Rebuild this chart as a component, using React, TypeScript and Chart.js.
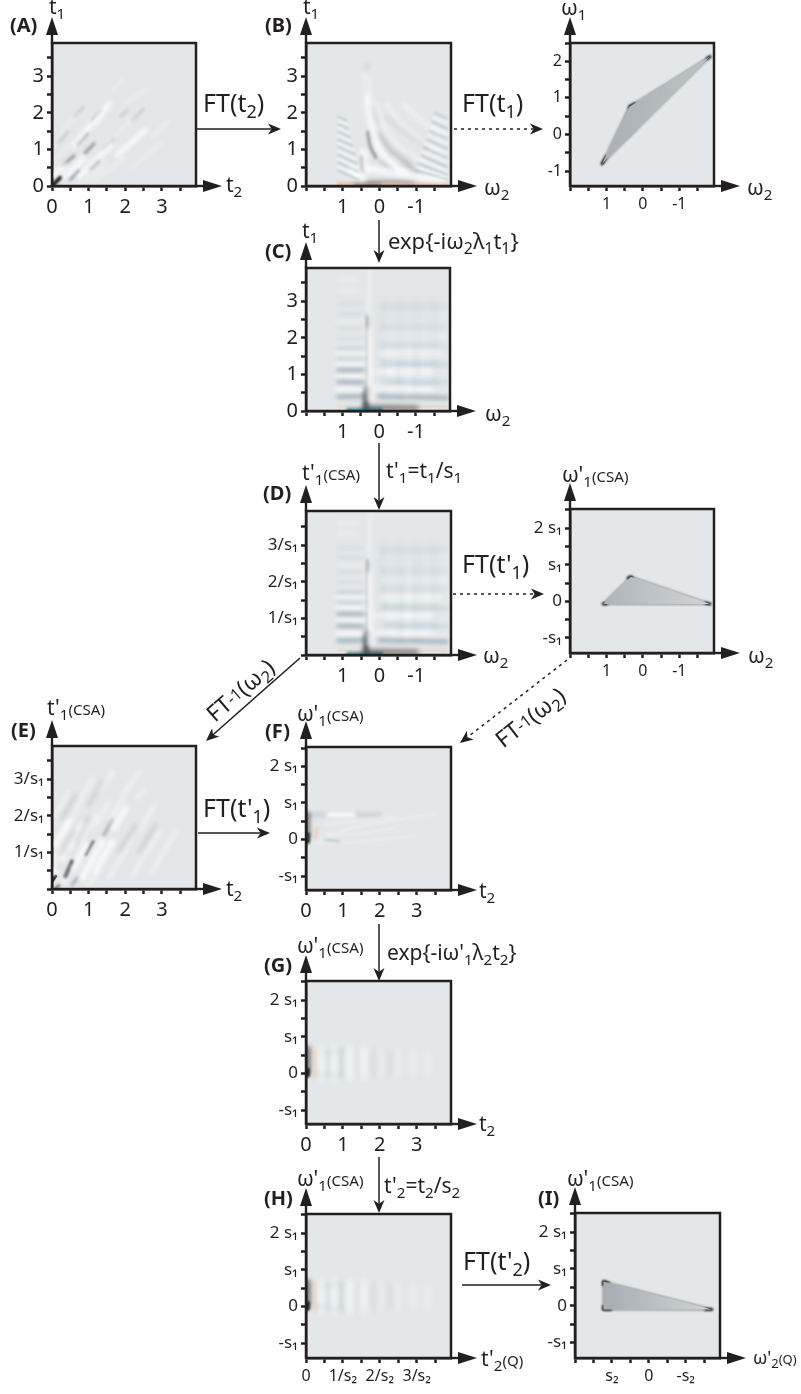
import React, { useEffect, useRef } from "react";
import { Chart, registerables } from "chart.js";
Chart.register(...registerables);

// ---------- tick values and labels ----------
const timeTickValues = [0, 1, 2, 3];
const timeTickText = ["0", "1", "2", "3"];
const freqTickValues = [1, 0, -1];
const freqTickText = ["1", "0", "-1"];
const wideFreqTickValues = [2, 1, 0, -1];
const wideFreqTickText = ["2", "1", "0", "-1"];
const scaledTimeTickValues = [1, 2, 3];
const scaledTimeTickText = ["1/s₁", "2/s₁", "3/s₁"];
const scaledFreqTickValues = [2, 1, 0, -1];
const scaledFreqTickText = ["2 s₁", "s₁", "0", "-s₁"];
const q2TimeTickValues = [0, 1, 2, 3];
const q2TimeTickText = ["0", "1/s₂", "2/s₂", "3/s₂"];
const q2FreqTickValues = [1, 0, -1];
const q2FreqTickText = ["s₂", "0", "-s₂"];

// ---------- read-off shapes, as polylines [x, y, x, y, ...] in axis units ----------
const shapeB1 = [[1.12, -0.8, 0.37, 0.76, -1.84, 2.13, 1.12, -0.8]];
const shapeB1Dark = [[1.12, -0.8, 1.0, -0.6], [0.37, 0.76, 0.3, 0.6], [0.37, 0.76, 0.22, 0.84], [-1.84, 2.13, -1.76, 2.07]];
const shapeB1Core = [[0.28, 0.62, 0.05, 0.62, 0.45, 0.1]];
const shapeD1 = [[1.09, -0.07, 0.33, 0.67, -1.84, -0.07, 1.09, -0.07]];
const shapeD1Dark = [[1.09, -0.07, 1.0, -0.07], [0.33, 0.67, 0.27, 0.61], [0.33, 0.67, 0.41, 0.64], [-1.84, -0.07, -1.72, -0.05]];
const shapeI = [[1.23, 0.66, 1.23, -0.1, -1.71, -0.1, 1.23, 0.66]];
const shapeIDark = [[1.23, 0.66, 1.23, 0.57], [1.23, 0.66, 1.1, 0.62], [1.23, -0.1, 1.23, -0.02], [1.23, -0.1, 1.03, -0.1], [-1.71, -0.1, -1.54, -0.1]];

const aBlack = [[0, 0, 0.22, 0.23]];
const aDark = [[0.3, 0.56, 0.6, 0.83], [0.5, 0.18, 0.73, 0.42], [0.69, 1.14, 0.96, 1.43], [0.9, 0.9, 1.15, 1.16], [1.05, 0.48, 1.28, 0.7]];
const aFaint = [[1.1, 1.81, 1.33, 2.04], [1.88, 1.9, 2.06, 2.08], [1.4, 1.0, 1.7, 1.3], [0.2, 1.2, 0.45, 1.5], [2.2, 1.8, 2.5, 2.1], [0.6, 1.9, 0.85, 2.15]];
const aWhite = [[0.05, 0.3, 0.37, 0.58], [0.6, 1.1, 1.05, 1.67], [0.37, 0.26, 0.87, 0.76], [0.73, 0.25, 1.6, 1.1], [1.19, 1.72, 1.56, 2.26], [1.78, 0.85, 2.56, 1.53]];
const aWhiteFaint = [[1.65, 2.63, 1.92, 2.9], [2, 2.26, 2.56, 2.63], [1.2, 0.15, 2.0, 0.8], [0.25, 1.45, 0.65, 1.95], [2.2, 0.5, 3.0, 1.2], [2.75, 1.35, 3.2, 1.8], [0.1, 0.75, 0.5, 1.15], [0.9, 0.1, 1.5, 0.65], [1.55, 1.2, 2.2, 1.85]];

const bStrip = [[1.12, 0.07, -1.84, 0.07]];
const bBase = [[0.65, 0.03, 0.0, 0.03]];
const bBaseGrey = [[0.3, 0.07, -0.9, 0.07]];
const bWhiteArcs = [
  [0.36, 3.07, 0.3, 2.25, 0.18, 1.53, 0.03, 1.07, -0.29, 0.66, -0.75, 0.39],
  [0.25, 0.48, -0.29, 0.39, -1.02, 0.25, -1.75, 0.16],
  [0.44, 0.98, 0.39, 0.35],
  [0.8, 0.48, 0.48, 0.21],
];
const bWhiteFaint = [
  [0.12, 2.25, -0.11, 1.62, -0.56, 1.07, -1.2, 0.66],
  [-0.2, 2.25, -0.56, 1.71, -1.2, 1.16, -1.75, 0.85],
  [-0.65, 2.25, -1.11, 1.8, -1.75, 1.35],
];
const bDarkArc = [[0.31, 1.48, 0.24, 1.07, 0.09, 0.78], [0.48, 0.8, 0.44, 0.39]];
const bGreyArc = [[-0.06, 0.66, -0.38, 0.42], [-0.56, 0.57, -1.02, 0.39], [0.03, 1.44, -0.29, 0.98, -0.84, 0.57]];
const bGreyFaint = [[0.2, 2.16, 0.03, 1.71], [0.35, 3.35, 0.35, 2.53], [-0.2, 1.9, -0.7, 1.45, -1.3, 1.05]];
const bRipplesBlue = [
  [1.12, 1.89, 0.9, 1.79], [1.12, 1.69, 0.86, 1.57], [1.12, 1.48, 0.8, 1.33], [1.12, 1.27, 0.74, 1.1],
  [1.12, 1.07, 0.68, 0.87], [1.12, 0.85, 0.62, 0.62], [1.12, 0.64, 0.58, 0.39], [1.12, 0.42, 0.56, 0.17],
  [-1.5, 2.0, -1.84, 1.84], [-1.45, 1.75, -1.84, 1.57], [-1.38, 1.5, -1.84, 1.29], [-1.3, 1.27, -1.84, 1.02],
  [-1.22, 1.05, -1.84, 0.77], [-1.15, 0.83, -1.84, 0.52], [-1.05, 0.62, -1.84, 0.3], [-1.0, 0.42, -1.84, 0.2],
];
const bRipplesWhite = [
  [1.12, 1.79, 0.88, 1.68], [1.12, 1.59, 0.83, 1.46], [1.12, 1.38, 0.77, 1.22], [1.12, 1.17, 0.71, 0.98],
  [1.12, 0.96, 0.65, 0.74], [1.12, 0.75, 0.6, 0.5], [1.12, 0.53, 0.57, 0.28],
  [-1.48, 1.88, -1.84, 1.71], [-1.42, 1.62, -1.84, 1.43], [-1.34, 1.38, -1.84, 1.15], [-1.26, 1.15, -1.84, 0.9],
  [-1.18, 0.94, -1.84, 0.65], [-1.1, 0.72, -1.84, 0.41], [-1.02, 0.52, -1.84, 0.25],
];

const cTeal = [[0.85, 0.04, -0.05, 0.04]];
const cStrip = [[1.12, 0.12, -1.84, 0.12]];
const cBaseGrey = [[0.4, 0.09, -1.0, 0.07]];
const cCore = [[0.36, 0, 0.36, 0.6]];
const cCoreUp = [[0.34, 0.6, 0.33, 2.6]];
const cWhiteCentre = [[0.27, 0.3, 0.29, 2.2], [-0.8, 0.6, 0.05, 0.62], [-1.5, 0.58, -0.8, 0.6], [-1.45, 1.07, 0.02, 1.07]];
const cBandsStrong = [[1.12, 0.39, 0.45, 0.4], [1.12, 0.8, 0.45, 0.78], [1.12, 1.12, 0.45, 1.12], [-0.8, 0.39, -1.84, 0.36], [0.0, 0.4, -0.7, 0.38]];
const cBandsMid = [[1.12, 1.44, 0.45, 1.44], [1.12, 1.71, 0.45, 1.71], [-0.2, 0.8, -1.84, 0.78], [-0.1, 1.3, -1.84, 1.28]];
const cBandsFaint = [[1.12, 1.98, 0.5, 1.98], [1.12, 2.25, 0.5, 2.25], [1.12, 2.66, 0.5, 2.66], [1.12, 2.9, 0.5, 2.9], [-0.05, 1.8, -1.84, 1.8], [-0.05, 2.3, -1.84, 2.3], [-0.05, 2.85, -1.8, 2.85]];
const cWhiteBands = [[1.12, 0.6, 0.45, 0.6], [1.12, 0.96, 0.45, 0.96], [1.12, 1.28, 0.45, 1.28], [1.12, 1.58, 0.45, 1.58], [-0.05, 1.57, -1.6, 1.57]];
const cWhiteFaintBands = [[1.12, 1.85, 0.5, 1.85], [1.12, 2.12, 0.5, 2.12], [1.12, 2.45, 0.5, 2.45], [1.12, 2.8, 0.5, 2.8], [1.12, 3.3, 0.6, 3.3], [1.12, 3.6, 0.6, 3.6], [-0.05, 2.05, -1.84, 2.05], [0.25, 3.9, 0.25, 2.6]];
const cColumns = [[-0.11, 0.5, -0.11, 3], [-0.56, 0.5, -0.56, 3], [-1.02, 0.5, -1.02, 3], [-1.47, 0.5, -1.47, 3]];
const cColumnsWhite = [[-0.33, 0.5, -0.33, 2.8], [-0.8, 0.5, -0.8, 2.8], [-1.25, 0.5, -1.25, 2.8], [-1.7, 0.5, -1.7, 2.8]];

const eBlack = [[0, 0.21, 0.1, 0.35]];
const eDark = [[0.37, 0.35, 0.55, 0.75]];
const eDarkMid = [[0.92, 0.94, 1.12, 1.3], [0.1, 0.02, 0.2, 0.1]];
const eGrey = [[1.42, 1.48, 1.65, 1.89], [0.55, 0.12, 0.69, 0.3], [0.14, 0.57, 0.23, 0.75]];
const eWhite = [[0.05, 0.44, 0.32, 0.94], [0.6, 0.57, 0.92, 1.21], [0.83, 0.3, 1.37, 1.3], [1.19, 0.48, 1.65, 1.3], [1.69, 1.66, 2.01, 2.21], [0.1, 1.21, 0.46, 1.85], [0.46, 1.12, 0.83, 1.75]];
const eWhiteFaint = [[1.56, 0.3, 2.2, 1.39], [0.83, 1.39, 1.19, 2.03], [1.19, 1.75, 1.56, 2.39], [2.33, 2.48, 2.52, 2.75], [0.1, 2.03, 0.46, 2.66], [0.65, 2.21, 1.1, 3.03], [2.2, 0.39, 2.93, 1.57], [2.74, 0.48, 3.38, 1.57], [1.28, 2.66, 1.65, 3.2], [1.92, 2.57, 2.38, 3.2], [0.25, 0.1, 0.55, 0.62], [1.0, 0.1, 1.25, 0.5], [0.02, 0.75, 0.25, 1.15], [0.35, 1.6, 0.7, 2.2], [2.4, 1.6, 2.8, 2.3], [1.6, 1.9, 1.95, 2.5]];
const eGreyFaint = [[0.23, 0.94, 0.6, 1.57], [0.65, 1.3, 1.0, 1.94], [0.28, 1.94, 0.65, 2.57], [1.0, 2.3, 1.37, 2.94], [1.83, 1.03, 2.28, 1.75], [2.38, 1.03, 2.83, 1.75]];

const fBlack = [[0.04, -0.06, 0.05, 0.14]];
const fDark = [[0.03, 0.1, 0.03, 0.68]];
const fGreyTop = [[0.05, 0.68, 0.5, 0.68], [1.4, 0.68, 2.0, 0.68]];
const fWhiteTop = [[0.6, 0.68, 1.3, 0.68]];
const fWhiteFan = [[0.4, 0, 1.2, 0.3, 2.2, 0.5, 3.5, 0.7], [0.3, -0.1, 1.0, -0.1, 2.0, 0, 3.0, 0.1], [0.5, 0.4, 1.2, 0.5, 2.4, 0.62], [0.55, 0.15, 1.3, 0.15, 2.4, 0.3]];
const fOrange = [[0.25, 0.05, 0.3, 0.3]];
const fBlue = [[0.5, 0, 0.9, -0.06], [0.08, 0.02, 0.1, 0.2]];

const gBlack = [[0.04, -0.06, 0.05, 0.1]];
const gDark = [[0.04, 0.05, 0.04, 0.65]];
const gWhite = [[0.42, -0.1, 0.42, 0.65], [0.75, -0.1, 0.75, 0.65], [1.2, -0.1, 1.2, 0.65], [1.55, -0.1, 1.55, 0.65]];
const gWhiteFaint = [[2.0, -0.05, 2.0, 0.62], [2.45, -0.05, 2.45, 0.6], [2.9, 0.0, 2.9, 0.55], [3.3, 0.0, 3.3, 0.5]];
const gBlue = [[0.6, -0.1, 0.6, 0.65], [0.95, -0.1, 0.95, 0.65], [0.3, 0.0, 1.0, -0.05], [0.5, 0.55, 1.0, 0.6]];
const gGrey = [[1.4, -0.08, 1.4, 0.62], [1.85, -0.05, 1.85, 0.6], [2.3, 0, 2.3, 0.55]];
const gOrange = [[0.25, -0.1, 0.25, 0.65]];

// ---------- styling ----------
const INK = "#231f20";
const PANEL_BG = "#e4e7e9";
const FONT = '"Noto Sans", "Open Sans", sans-serif';
const white = (a: number) => `rgba(255,255,255,${a})`;
const black = (a: number) => `rgba(20,24,28,${a})`;
const blue = (a: number) => `rgba(95,150,175,${a})`;
const orange = (a: number) => `rgba(240,180,140,${a})`;
const teal = (a: number) => `rgba(15,95,115,${a})`;

type Layer = { d: number[][]; c: string; w: number; b?: number; t?: number };

const layersC: Layer[] = [
  { d: cColumns, c: blue(0.1), w: 6, b: 4 },
  { d: cColumnsWhite, c: white(0.2), w: 7, b: 4 },
  { d: cBandsFaint, c: blue(0.14), w: 4, b: 2.5 },
  { d: cBandsMid, c: blue(0.25), w: 4, b: 2.2 },
  { d: cBandsStrong, c: "rgba(70,105,125,0.45)", w: 4, b: 2 },
  { d: cWhiteFaintBands, c: white(0.35), w: 4, b: 2.5 },
  { d: cWhiteBands, c: white(0.65), w: 6, b: 2.5 },
  { d: cWhiteCentre, c: white(0.75), w: 6, b: 2.8 },
  { d: cBaseGrey, c: black(0.45), w: 6, b: 2.5 },
  { d: cStrip, c: orange(0.45), w: 2, b: 1 },
  { d: cTeal, c: "rgba(40,140,165,0.8)", w: 4, b: 1.2 },
  { d: cCoreUp, c: black(0.35), w: 2, b: 1.5 },
  { d: cCore, c: black(0.85), w: 5, b: 2 },
];

const layersG: Layer[] = [
  { d: gWhite, c: white(0.6), w: 7, b: 3 },
  { d: gWhiteFaint, c: white(0.35), w: 6, b: 3 },
  { d: gBlue, c: blue(0.22), w: 4, b: 2.2 },
  { d: gGrey, c: black(0.07), w: 5, b: 3 },
  { d: gOrange, c: orange(0.45), w: 4, b: 2.2 },
  { d: gDark, c: black(0.5), w: 7, b: 2 },
  { d: gBlack, c: black(0.95), w: 4, b: 1 },
];

const polygonLayers = (dark: number[][], edge: number[][]): Layer[] => [
  { d: edge, c: black(0.5), w: 1.5, b: 0.8 },
  { d: dark, c: black(0.95), w: 2.8, b: 0.8 },
];

type Panel = {
  L: number; T: number; R: number; B: number;
  xMin: number; xMax: number; yMin: number; yMax: number; rev?: boolean;
  xv: number[]; xt: string[]; yv: number[]; yt: string[];
  xs: number; ys: number;
  poly?: number[][]; grad?: [number, string, number, string];
  layers: Layer[];
};

const panels: Panel[] = [
  { L: 52, T: 43, R: 196, B: 186, xMin: 0, xMax: 3.93, yMin: 0, yMax: 3.91,
    xv: timeTickValues, xt: timeTickText, yv: timeTickValues, yt: timeTickText, xs: 20, ys: 20,
    layers: [
      { d: aWhiteFaint, c: white(0.35), w: 3, b: 2 },
      { d: aWhite, c: white(0.8), w: 5, b: 2.2 },
      { d: aFaint, c: black(0.14), w: 2.5, b: 1.5 },
      { d: aDark, c: black(0.36), w: 3, b: 1.8 },
      { d: aBlack, c: black(0.95), w: 4, b: 1 },
    ] },
  { L: 306, T: 43, R: 451, B: 186, xMin: -1.95, xMax: 2, yMin: 0, yMax: 3.91, rev: true,
    xv: freqTickValues, xt: freqTickText, yv: timeTickValues, yt: timeTickText, xs: 20, ys: 20,
    layers: [
      { d: bGreyFaint, c: black(0.09), w: 3, b: 2 },
      { d: bRipplesWhite, c: white(0.5), w: 2.5, b: 1 },
      { d: bRipplesBlue, c: blue(0.32), w: 2, b: 0.9 },
      { d: bWhiteFaint, c: white(0.45), w: 4, b: 2.4 },
      { d: bWhiteArcs, c: white(0.85), w: 5.5, b: 2.8, t: 0.3 },
      { d: bGreyArc, c: black(0.2), w: 4, b: 2.5 },
      { d: bDarkArc, c: black(0.42), w: 3, b: 1.8, t: 0.3 },
      { d: bStrip, c: orange(0.75), w: 3, b: 1 },
      { d: bBaseGrey, c: black(0.42), w: 5, b: 2.5 },
      { d: bBase, c: teal(0.9), w: 4, b: 1.5 },
    ] },
  { L: 570, T: 43, R: 714, B: 186, xMin: -1.95, xMax: 2, yMin: -1.41, yMax: 2.5, rev: true,
    xv: freqTickValues, xt: freqTickText, yv: wideFreqTickValues, yt: wideFreqTickText, xs: 16, ys: 16,
    poly: shapeB1, grad: [1.12, "#a9b1b6", -1.84, "#bcc3c7"],
    layers: [{ d: shapeB1Core, c: black(0.18), w: 6, b: 3 }, ...polygonLayers(shapeB1Dark, shapeB1)] },
  { L: 306, T: 268, R: 450, B: 411, xMin: -1.93, xMax: 2, yMin: 0, yMax: 3.91, rev: true,
    xv: freqTickValues, xt: freqTickText, yv: timeTickValues, yt: timeTickText, xs: 20, ys: 20,
    layers: layersC },
  { L: 306, T: 511, R: 451, B: 655, xMin: -1.95, xMax: 2, yMin: 0, yMax: 3.93, rev: true,
    xv: freqTickValues, xt: freqTickText, yv: scaledTimeTickValues, yt: scaledTimeTickText, xs: 20, ys: 17,
    layers: layersC },
  { L: 570, T: 509, R: 714, B: 653, xMin: -1.95, xMax: 2, yMin: -1.41, yMax: 2.52, rev: true,
    xv: freqTickValues, xt: freqTickText, yv: scaledFreqTickValues, yt: scaledFreqTickText, xs: 16, ys: 17,
    poly: shapeD1, grad: [1.09, "#aeb5b9", -1.84, "#d0d4d7"],
    layers: polygonLayers(shapeD1Dark, shapeD1) },
  { L: 52, T: 746, R: 196, B: 889, xMin: 0, xMax: 3.93, yMin: 0, yMax: 3.91,
    xv: timeTickValues, xt: timeTickText, yv: scaledTimeTickValues, yt: scaledTimeTickText, xs: 20, ys: 17,
    layers: [
      { d: eGreyFaint, c: black(0.1), w: 4, b: 2 },
      { d: eWhiteFaint, c: white(0.35), w: 5, b: 2 },
      { d: eWhite, c: white(0.75), w: 6, b: 2.2 },
      { d: eGrey, c: black(0.24), w: 3.5, b: 1.5 },
      { d: eDarkMid, c: black(0.5), w: 3, b: 1.3 },
      { d: eDark, c: black(0.75), w: 4, b: 1.3 },
      { d: eBlack, c: black(0.9), w: 3, b: 0.7 },
    ] },
  { L: 306, T: 747, R: 451, B: 890, xMin: 0, xMax: 3.93, yMin: -1.38, yMax: 2.53,
    xv: timeTickValues, xt: timeTickText, yv: scaledFreqTickValues, yt: scaledFreqTickText, xs: 20, ys: 17,
    layers: [
      { d: fWhiteFan, c: white(0.32), w: 2.5, b: 1.6, t: 0.3 },
      { d: fGreyTop, c: black(0.13), w: 4, b: 2.2 },
      { d: fWhiteTop, c: white(0.65), w: 4, b: 1.8 },
      { d: fOrange, c: orange(0.5), w: 3, b: 1.8 },
      { d: fBlue, c: blue(0.35), w: 2.5, b: 1.4 },
      { d: fDark, c: black(0.5), w: 6, b: 2.2 },
      { d: fBlack, c: black(0.95), w: 4, b: 0.8 },
    ] },
  { L: 306, T: 981, R: 451, B: 1124, xMin: 0, xMax: 3.93, yMin: -1.38, yMax: 2.52,
    xv: timeTickValues, xt: timeTickText, yv: scaledFreqTickValues, yt: scaledFreqTickText, xs: 20, ys: 17,
    layers: layersG },
  { L: 306, T: 1214, R: 451, B: 1358, xMin: 0, xMax: 3.93, yMin: -1.4, yMax: 2.52,
    xv: q2TimeTickValues, xt: q2TimeTickText, yv: scaledFreqTickValues, yt: scaledFreqTickText, xs: 16, ys: 17,
    layers: layersG },
  { L: 575, T: 1213, R: 720, B: 1358, xMin: -1.93, xMax: 2, yMin: -1.42, yMax: 2.52, rev: true,
    xv: q2FreqTickValues, xt: q2FreqTickText, yv: scaledFreqTickValues, yt: scaledFreqTickText, xs: 16, ys: 17,
    poly: shapeI, grad: [1.23, "#a6adb2", -1.71, "#d0d4d7"],
    layers: polygonLayers(shapeIDark, shapeI) },
];

const toPoints = (lines: number[][]) => {
  const pts: { x: number; y: number }[] = [];
  lines.forEach((l) => {
    for (let i = 0; i < l.length; i += 2) pts.push({ x: l[i], y: l[i + 1] });
    pts.push({ x: NaN, y: NaN });
  });
  return pts;
};

const M_LEFT = 50, M_TOP = 8, M_RIGHT = 8, M_BOTTOM = 34;

const framePlugin = {
  id: "frame",
  beforeDraw(chart: any) {
    const { ctx, chartArea: a } = chart;
    ctx.save();
    ctx.fillStyle = PANEL_BG;
    ctx.fillRect(a.left, a.top, a.right - a.left, a.bottom - a.top);
    ctx.restore();
  },
  beforeDatasetDraw(chart: any, args: any) {
    const ds = chart.data.datasets[args.index];
    chart.ctx.save();
    if (ds.blurPx) chart.ctx.filter = `blur(${ds.blurPx}px)`;
  },
  afterDatasetDraw(chart: any) {
    chart.ctx.restore();
  },
  afterDraw(chart: any) {
    const { ctx, chartArea: a } = chart;
    ctx.save();
    ctx.strokeStyle = INK;
    ctx.lineWidth = 2.5;
    ctx.strokeRect(a.left, a.top, a.right - a.left, a.bottom - a.top);
    ctx.restore();
  },
};

const axis = (min: number, max: number, values: number[], text: string[], size: number, reverse: boolean, fit: (s: any) => void, padding: number) => ({
  type: "linear",
  min, max, reverse,
  afterFit: (s: any) => {
    fit(s);
    s.paddingTop = 0; s.paddingBottom = 0; s.paddingLeft = 0; s.paddingRight = 0;
  },
  border: { display: true, color: INK, width: 2.5 },
  grid: { drawOnChartArea: false, drawTicks: true, tickLength: 5, tickWidth: 2.5, tickColor: INK },
  ticks: {
    stepSize: 0.5, includeBounds: false, autoSkip: false, maxRotation: 0, padding,
    color: INK, font: { family: FONT, size },
    callback: (v: number) => {
      const i = values.findIndex((u) => Math.abs(u - v) < 1e-6);
      return i >= 0 ? text[i] : "";
    },
  },
});

function PanelChart({ p }: { p: Panel }) {
  const ref = useRef<HTMLCanvasElement>(null);
  useEffect(() => {
    const datasets: any[] = [];
    if (p.poly && p.grad) {
      const [v0, c0, v1, c1] = p.grad;
      datasets.push({
        data: toPoints(p.poly).filter((q) => !Number.isNaN(q.x)),
        showLine: true, pointRadius: 0, borderWidth: 0, fill: "shape",
        backgroundColor: (ctx: any) => {
          const chart = ctx.chart;
          if (!chart.chartArea) return c0;
          const x = chart.scales.x;
          const g = chart.ctx.createLinearGradient(x.getPixelForValue(v0), 0, x.getPixelForValue(v1), 0);
          g.addColorStop(0, c0);
          g.addColorStop(1, c1);
          return g;
        },
      });
    }
    p.layers.forEach((l) => datasets.push({
      data: toPoints(l.d), showLine: true, pointRadius: 0, fill: false,
      borderColor: l.c, borderWidth: l.w, borderCapStyle: "round", borderJoinStyle: "round",
      tension: l.t ?? 0, blurPx: l.b ?? 0, spanGaps: false, clip: 0,
    }));
    const chart = new Chart(ref.current as HTMLCanvasElement, {
      type: "scatter",
      data: { datasets },
      plugins: [framePlugin],
      options: {
        animation: false, responsive: false, devicePixelRatio: 1,
        layout: { padding: { left: 0, top: M_TOP, right: M_RIGHT, bottom: 0 } },
        plugins: { legend: { display: false }, tooltip: { enabled: false }, title: { display: false } },
        scales: {
          x: axis(p.xMin, p.xMax, p.xv, p.xt, p.xs, !!p.rev, (s: any) => { s.height = M_BOTTOM; }, 4),
          y: axis(p.yMin, p.yMax, p.yv, p.yt, p.ys, false, (s: any) => { s.width = M_LEFT; }, 3),
        },
      } as any,
    });
    return () => chart.destroy();
  }, [p]);
  return (
    <canvas
      ref={ref}
      width={p.R - p.L + M_LEFT + M_RIGHT}
      height={p.B - p.T + M_TOP + M_BOTTOM}
      style={{ position: "absolute", left: p.L - M_LEFT, top: p.T - M_TOP }}
    />
  );
}

// ---------- annotation text ----------
const S = ({ children }: { children: React.ReactNode }) => (
  <span style={{ fontSize: "0.72em", position: "relative", top: "0.32em" }}>{children}</span>
);
const Small = ({ children }: { children: React.ReactNode }) => (
  <span style={{ fontSize: "0.72em" }}>{children}</span>
);

function T({ x, y, s = 21, bold, rot, center, children }: any) {
  return (
    <div style={{
      position: "absolute", left: x, top: y, fontSize: s, fontFamily: FONT, fontWeight: bold ? 700 : 400,
      color: INK, whiteSpace: "nowrap", lineHeight: 1,
      transform: `translate(${center ? "-50%" : "0"}, -50%)${rot ? ` rotate(${rot}deg)` : ""}`,
    }}>{children}</div>
  );
}

const CSA = <Small>(CSA)</Small>;
const omega1CSA = <>ω'<S>1</S>{CSA}</>;
const t1CSA = <>t'<S>1</S>{CSA}</>;
const ftInv = <>FT<Small><span style={{ position: "relative", top: "-0.15em" }}>-1</span></Small>(ω<S>2</S>)</>;

function Arrow({ x1, y1, x2, y2, dotted, head = 13, half = 5.5 }: any) {
  const dx = x2 - x1, dy = y2 - y1, n = Math.hypot(dx, dy);
  const ux = dx / n, uy = dy / n;
  const bx = x2 - ux * head, by = y2 - uy * head;
  const nx = x2 - ux * head * 0.72, ny = y2 - uy * head * 0.72;
  const pts = `${x2},${y2} ${bx - uy * half},${by + ux * half} ${nx},${ny} ${bx + uy * half},${by - ux * half}`;
  return (
    <g>
      <line x1={x1} y1={y1} x2={nx} y2={ny} stroke={INK} strokeWidth={1.5} strokeDasharray={dotted ? "3 4" : undefined} />
      <polygon points={pts} fill={INK} />
    </g>
  );
}

const AxisHeads = ({ p }: { p: Panel }) => (
  <g fill={INK}>
    <polygon points={`${p.L},${p.T - 26} ${p.L - 6},${p.T - 8} ${p.L + 6},${p.T - 8}`} />
    <rect x={p.L - 1.2} y={p.T - 9} width={2.4} height={9} />
    <polygon points={`${p.R + 26},${p.B} ${p.R + 7},${p.B - 6} ${p.R + 7},${p.B + 6}`} />
    <rect x={p.R} y={p.B - 1.2} width={8} height={2.4} />
  </g>
);

export default function App() {
  return (
    <div style={{ position: "absolute", left: 0, top: 0, width: 801, height: 1394, background: "#fff", overflow: "hidden" }}>
      {panels.map((p, i) => <PanelChart key={i} p={p} />)}
      <svg width={801} height={1394} style={{ position: "absolute", left: 0, top: 0 }}>
        {panels.map((p, i) => <AxisHeads key={i} p={p} />)}
        <Arrow x1={197} y1={129} x2={281} y2={129} />
        <Arrow x1={454} y1={129} x2={543} y2={129} dotted />
        <Arrow x1={379} y1={220} x2={379} y2={263} />
        <Arrow x1={379} y1={443} x2={379} y2={510} />
        <Arrow x1={453} y1={594} x2={544} y2={594} dotted />
        <Arrow x1={300} y1={658} x2={206} y2={741} />
        <Arrow x1={567} y1={660} x2={460} y2={743} dotted />
        <Arrow x1={198} y1={833} x2={270} y2={833} />
        <Arrow x1={379} y1={924} x2={379} y2={981} />
        <Arrow x1={379} y1={1157} x2={379} y2={1213} />
        <Arrow x1={462} y1={1285} x2={551} y2={1285} />
      </svg>

      <T x={10} y={25} s={20} bold>(A)</T>
      <T x={265} y={25} s={20} bold>(B)</T>
      <T x={265} y={251} s={20} bold>(C)</T>
      <T x={263} y={493} s={20} bold>(D)</T>
      <T x={11} y={730} s={20} bold>(E)</T>
      <T x={265} y={731} s={20} bold>(F)</T>
      <T x={264} y={965} s={20} bold>(G)</T>
      <T x={264} y={1198} s={20} bold>(H)</T>
      <T x={538} y={1198} s={20} bold>(I)</T>

      <T x={49} y={6}>t<S>1</S></T>
      <T x={226} y={184}>t<S>2</S></T>
      <T x={303} y={6}>t<S>1</S></T>
      <T x={484} y={187}>ω<S>2</S></T>
      <T x={561} y={7}>ω<S>1</S></T>
      <T x={747} y={187}>ω<S>2</S></T>
      <T x={203} y={102} s={25}>FT(t<S>2</S>)</T>
      <T x={462} y={102} s={25}>FT(t<S>1</S>)</T>

      <T x={302} y={230}>t<S>1</S></T>
      <T x={388} y={240} s={22}>exp{"{"}-iω<S>2</S>λ<S>1</S>t<S>1</S>{"}"}</T>
      <T x={485} y={413}>ω<S>2</S></T>

      <T x={302} y={472}>{t1CSA}</T>
      <T x={386} y={470}>t'<S>1</S>=t<S>1</S>/s<S>1</S></T>
      <T x={462} y={563} s={25}>FT(t'<S>1</S>)</T>
      <T x={483} y={655}>ω<S>2</S></T>
      <T x={562} y={474}>{omega1CSA}</T>
      <T x={748} y={655}>ω<S>2</S></T>

      <T x={240} y={690} s={23} rot={-41} center>{ftInv}</T>
      <T x={530} y={717} s={23} rot={-38} center>{ftInv}</T>

      <T x={47} y={707}>{t1CSA}</T>
      <T x={226} y={888}>t<S>2</S></T>
      <T x={203} y={807} s={25}>FT(t'<S>1</S>)</T>
      <T x={297} y={713}>{omega1CSA}</T>
      <T x={479} y={890}>t<S>2</S></T>

      <T x={297} y={945}>{omega1CSA}</T>
      <T x={387} y={952} s={21}>exp{"{"}-iω'<S>1</S>λ<S>2</S>t<S>2</S>{"}"}</T>
      <T x={479} y={1123}>t<S>2</S></T>

      <T x={297} y={1178}>{omega1CSA}</T>
      <T x={384} y={1185}>t'<S>2</S>=t<S>2</S>/s<S>2</S></T>
      <T x={463} y={1260} s={25}>FT(t'<S>2</S>)</T>
      <T x={481} y={1358}>t'<S>2</S><Small>(Q)</Small></T>
      <T x={567} y={1178}>{omega1CSA}</T>
      <T x={753} y={1357} s={18}>ω'<S>2</S><Small>(Q)</Small></T>
    </div>
  );
}
